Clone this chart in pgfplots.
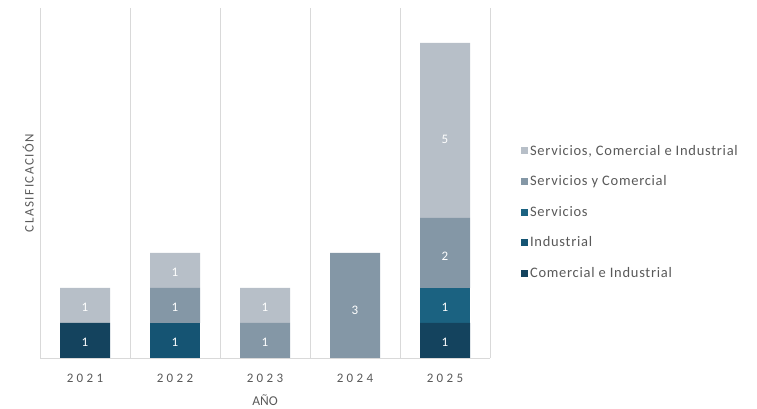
\documentclass[border=0pt]{standalone}
\usepackage{pgfplots}
\pgfplotsset{compat=1.18}
\usepackage{fontspec}
\setmainfont{Carlito}
\newfontfamily\spacedfont[LetterSpace=26]{Carlito}
\newfontfamily\labfont[LetterSpace=12]{Carlito}
\newfontfamily\legfont[LetterSpace=5]{Carlito}
\definecolor{cCI}{HTML}{14435E}
\definecolor{cInd}{HTML}{155473}
\definecolor{cSer}{HTML}{1B6281}
\definecolor{cSyC}{HTML}{8497A6}
\definecolor{cSCI}{HTML}{B7BFC8}
\definecolor{txt}{HTML}{595959}
\definecolor{grd}{HTML}{D9D9D9}
\makeatletter
\pgfplotsset{
  calculate offset/.code={
    \pgfkeys{/pgf/fpu=true,/pgf/fpu/output format=fixed}
    \pgfmathsetmacro\testmacro{(\pgfplotspointmeta*10^\pgfplotspointmetarangeexponent)*\pgfplots@y@veclength/2}
    \pgfkeys{/pgf/fpu=false}
  },
}
\makeatother
\begin{document}
\begin{tikzpicture}
\useasboundingbox (0,0) rectangle (757pt,409pt);
\begin{axis}[
  at={(40pt,51pt)}, anchor=south west,
  scale only axis, width=450pt, height=350pt,
  ybar stacked, bar width=50pt,
  /pgf/number format/assume math mode=true,
  xmin=-0.5, xmax=4.5, ymin=0, ymax=10,
  xtick={0,1,2,3,4},
  xticklabels={2021,2022,2023,2024,2025},
  xticklabel style={font=\spacedfont\fontsize{13}{15}\selectfont, text=txt, yshift=-13pt},
  minor xtick={-0.5,0.5,1.5,2.5,3.5,4.5},
  xminorgrids, minor grid style={grd, line width=0.8pt},
  major tick length=0pt, minor tick length=0pt,
  ytick=\empty,
  axis x line*=bottom, axis y line*=left,
  x axis line style={grd, line width=0.8pt, -},
  y axis line style={draw=none},
  xlabel={AÑO}, xlabel style={font=\fontsize{13.5}{15}\selectfont, text=txt, at={(axis description cs:0.5,0)}, anchor=center, yshift=-42pt},
  ylabel={CLASIFICACIÓN}, ylabel style={font=\labfont\fontsize{13}{15}\selectfont, text=txt, at={(axis description cs:-0.006,0.5)}, anchor=south, rotate=0},
  nodes near coords={\pgfmathfloatifflags{\pgfplotspointmeta}{0}{}{\pgfmathprintnumber{\pgfplotspointmeta}}},
  every node near coord/.style={/pgfplots/calculate offset, yshift=-\testmacro, anchor=center, text=white, font=\fontsize{13}{15}\selectfont},
  reverse legend,
  legend cell align=left,
  legend style={at={(1.062,0.62)}, anchor=north west, draw=none, fill=none,
    font=\legfont\fontsize{14.5}{16}\selectfont, text=txt, row sep=15pt},
  legend image code/.code={\fill[#1] (-7pt,-3.5pt) rectangle (0pt,3.5pt);},
]
\addplot[fill=cCI, draw=none] coordinates {(0,1) (1,0) (2,0) (3,0) (4,1)};
\addlegendentry{Comercial e Industrial}
\addplot[fill=cInd, draw=none] coordinates {(0,0) (1,1) (2,0) (3,0) (4,0)};
\addlegendentry{Industrial}
\addplot[fill=cSer, draw=none] coordinates {(0,0) (1,0) (2,0) (3,0) (4,1)};
\addlegendentry{Servicios}
\addplot[fill=cSyC, draw=none] coordinates {(0,0) (1,1) (2,1) (3,3) (4,2)};
\addlegendentry{Servicios y Comercial}
\addplot[fill=cSCI, draw=none] coordinates {(0,1) (1,1) (2,1) (3,0) (4,5)};
\addlegendentry{Servicios, Comercial e Industrial}
\end{axis}
\end{tikzpicture}
\end{document}
